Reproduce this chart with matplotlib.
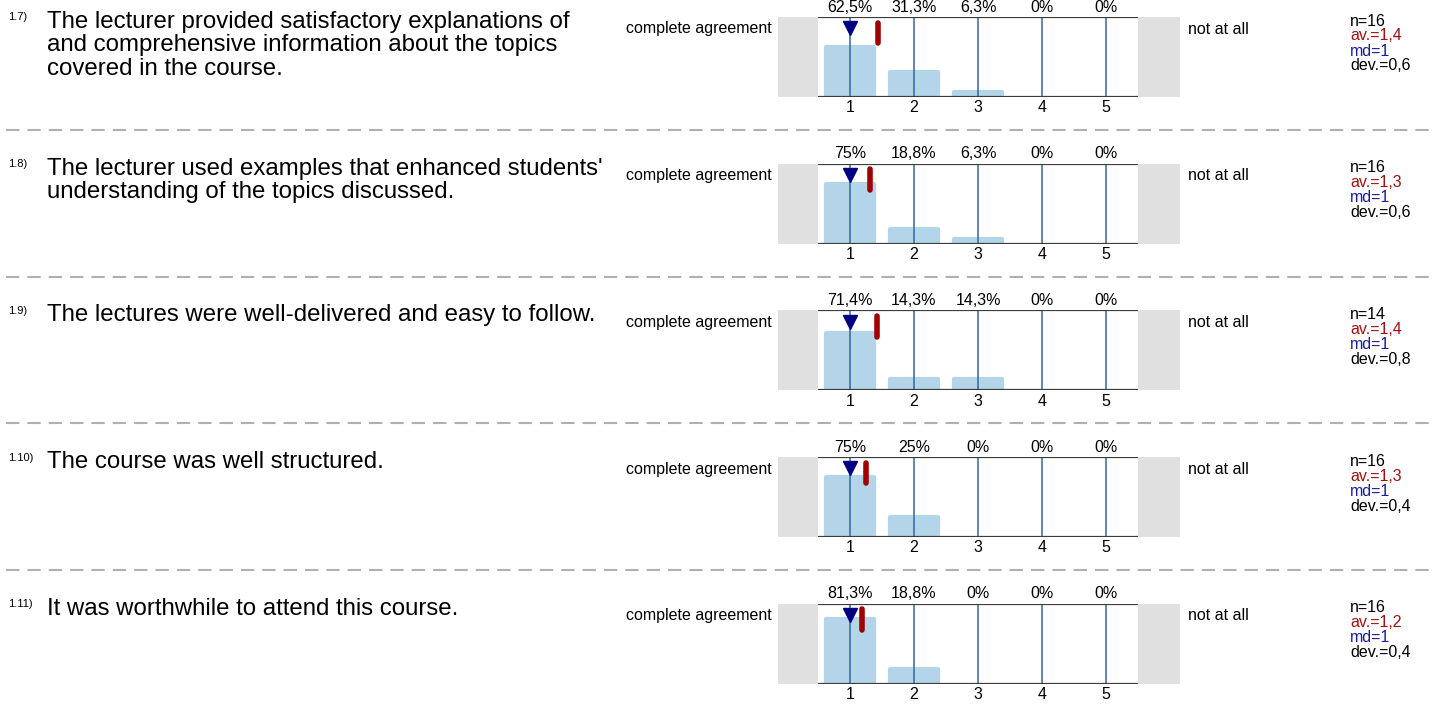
import matplotlib.pyplot as plt
import numpy as np

plt.rcParams['font.family'] = ['Liberation Sans', 'DejaVu Sans']

# data
numbers = ["1.7)", "1.8)", "1.9)", "1.10)", "1.11)"]
questions = [
    "The lecturer provided satisfactory explanations of\nand comprehensive information about the topics\ncovered in the course.",
    "The lecturer used examples that enhanced students'\nunderstanding of the topics discussed.",
    "The lectures were well-delivered and easy to follow.",
    "The course was well structured.",
    "It was worthwhile to attend this course.",
]
scale = [1, 2, 3, 4, 5]
pct_17 = [62.5, 31.3, 6.3, 0, 0]
pct_18 = [75, 18.8, 6.3, 0, 0]
pct_19 = [71.4, 14.3, 14.3, 0, 0]
pct_110 = [75, 25, 0, 0, 0]
pct_111 = [81.3, 18.8, 0, 0, 0]
percents = [pct_17, pct_18, pct_19, pct_110, pct_111]
n_vals = [16, 16, 14, 16, 16]
av_vals = ["1,4", "1,3", "1,4", "1,3", "1,2"]
md_vals = [1, 1, 1, 1, 1]
dev_vals = ["0,6", "0,6", "0,8", "0,4", "0,4"]
means = [1.44, 1.31, 1.43, 1.25, 1.19]
left_label = "complete agreement"
right_label = "not at all"

W, H = 1432, 704
fig = plt.figure(figsize=(W / 100, H / 100), dpi=100)

def fx(x):
    return x / W

def fy(y):
    return 1 - y / H

bar_col = "#b4d4ea"
line_col = "#2f66a6"
gray = "#e0e0e0"
axis_col = "#3c3c3c"

for i in range(5):
    top = 17 + i * 146.7
    # chart axes spans gray boxes too: 778..1180 px
    ax = fig.add_axes([fx(778), fy(top + 80), fx(1180 - 778), 80 / H])
    unit = 64.2
    x0 = 0.5 - 40 / unit
    x1 = 5.5 + 42 / unit
    ax.set_xlim(x0, x1)
    ax.set_ylim(0, 100)
    ax.axis("off")
    ax.axvspan(x0, 0.5, color=gray, lw=0)
    ax.axvspan(5.5, x1, color=gray, lw=0)
    lws = [3 if p > 0 else 0 for p in percents[i]]
    ax.bar(scale, percents[i], width=0.75, color=bar_col, edgecolor=bar_col,
           linewidth=lws, joinstyle="round", zorder=1)
    ax.vlines(scale, 0, 100, color=line_col, lw=1.1, zorder=2)
    ax.hlines([0, 100], 0.5, 5.5, color=axis_col, lw=1.6, zorder=4)
    # median triangle
    ax.plot(md_vals[i], 86, marker="v", ms=10, color="#000080", mec="#000080",
            zorder=5, clip_on=False)
    # mean bar
    ax.plot([means[i], means[i]], [67, 93], color="#a00000", lw=4,
            solid_capstyle="round", zorder=5)
    for s, p in zip(scale, percents[i]):
        lab = ("%g" % p).replace(".", ",") + "%"
        ax.text(s, 103, lab, ha="center", va="bottom", fontsize=11.5)
        ax.text(s, -4, str(s), ha="center", va="top", fontsize=11.5)

    fig.text(fx(772), fy(top + 12), left_label, ha="right", va="center", fontsize=11.5)
    fig.text(fx(1188), fy(top + 12), right_label, ha="left", va="center", fontsize=11.5)

    sx = 1350
    stats = [("n=%d" % n_vals[i], "black"), ("av.=" + av_vals[i], "#a01010"),
             ("md=%d" % md_vals[i], "#1a1a9a"), ("dev.=" + dev_vals[i], "black")]
    for k, (t, c) in enumerate(stats):
        fig.text(fx(sx), fy(top + 4 + k * 15), t, color=c, ha="left", va="center",
                 fontsize=11.5)

    fig.text(fx(8), fy(top - 4.5), numbers[i], ha="left", va="top", fontsize=8)
    fig.text(fx(47), fy(top - 6), questions[i], ha="left", va="top", fontsize=17.3,
             linespacing=1.08)

    if i < 4:
        ysep = top + 113
        fig.add_artist(plt.Line2D([fx(6), 1], [fy(ysep), fy(ysep)], color="#b0b0b0",
                                  lw=1.5, dashes=(6.4, 3.85)))

plt.savefig("out.png", dpi=100)
